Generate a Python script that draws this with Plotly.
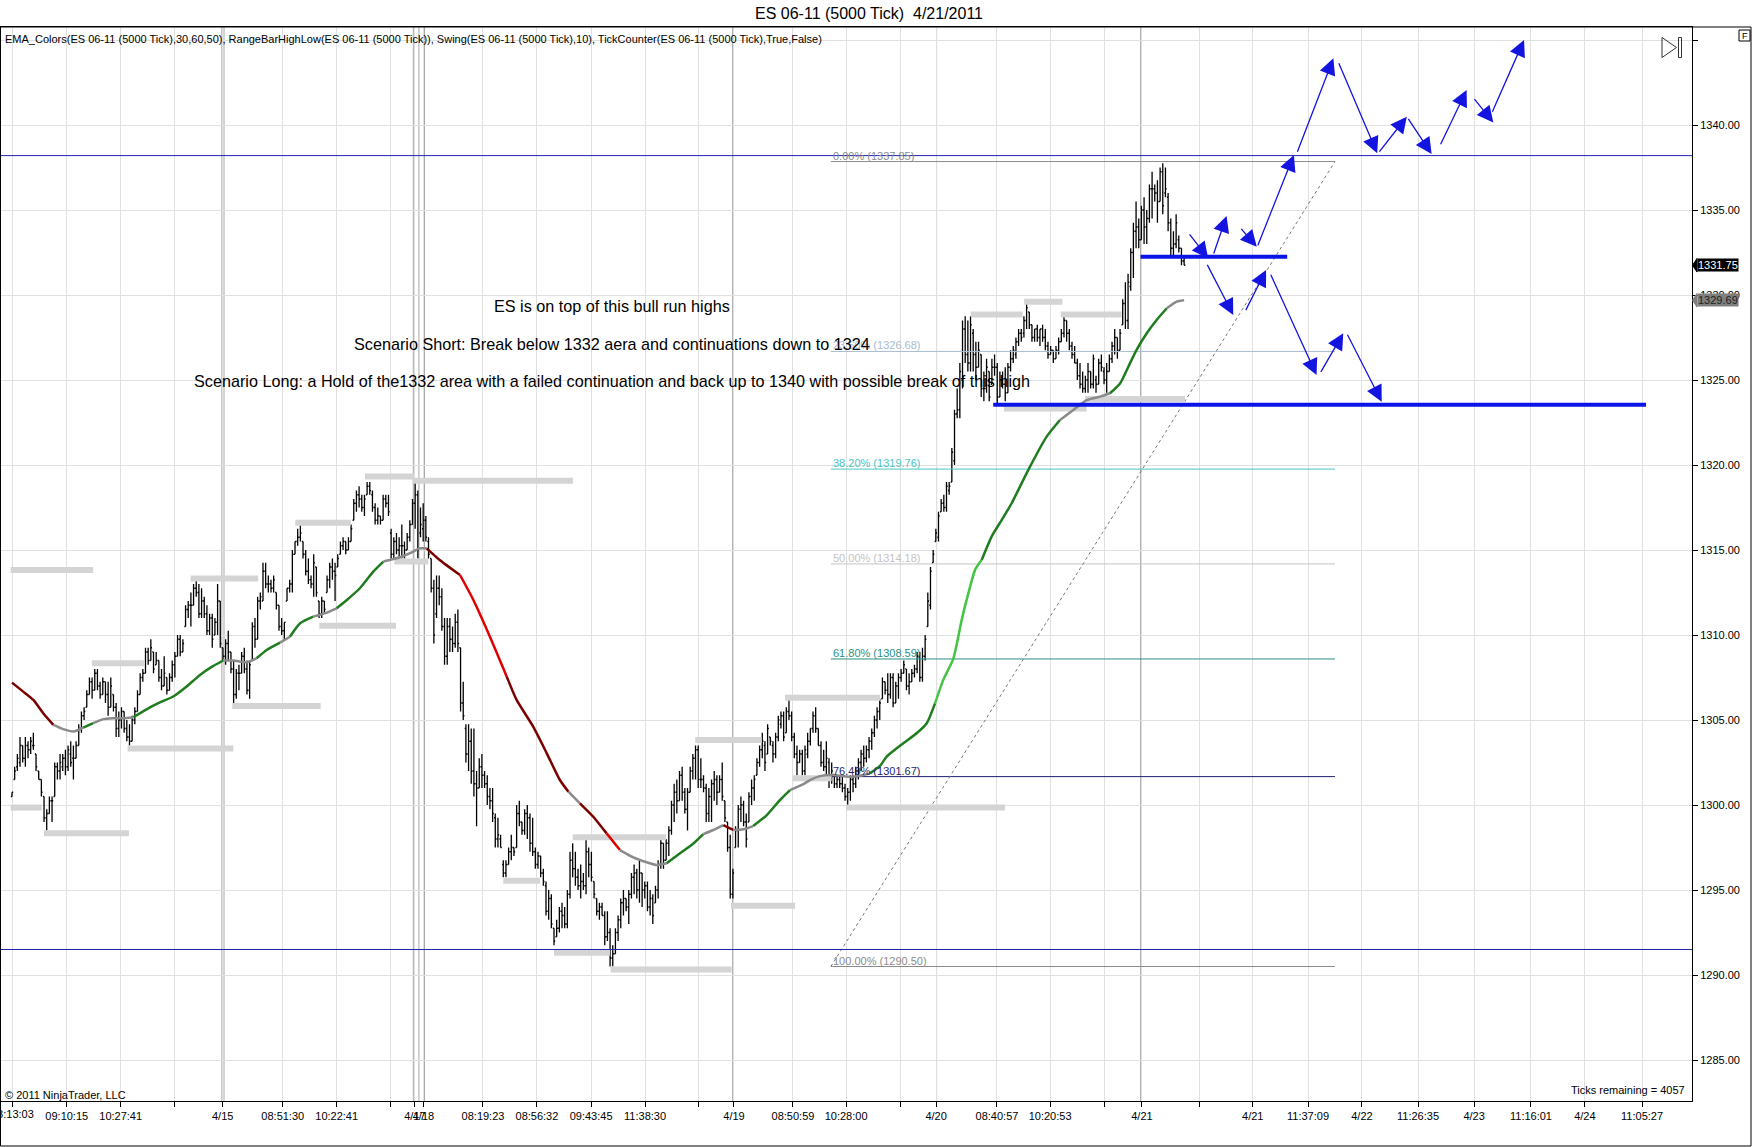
import plotly.graph_objects as go

# ES 06-11 (5000 Tick) 4/21/2011

# ---- 5000 tick OHLC bars, oldest first (x = bar number)
bar_open = [
    1300.5, 1301.5, 1302.25, 1302.5, 1303.5, 1302.75, 1303.5, 1303.25, 1303.5, 1303.0,
    1302.0, 1301.5, 1300.5, 1299.25, 1299.5, 1300.25, 1300.5, 1302.25, 1302.0, 1302.25,
    1302.75, 1302.25, 1303.0, 1302.75, 1302.75, 1303.5, 1304.5, 1305.25, 1305.75, 1306.5,
    1307.25, 1306.75, 1307.75, 1307.0, 1306.5, 1307.25, 1306.5, 1305.75, 1306.5, 1305.75,
    1304.5, 1305.0, 1305.5, 1304.5, 1304.0, 1303.75, 1305.0, 1305.5, 1306.5, 1307.5,
    1307.75, 1309.0, 1308.5, 1309.0, 1308.25, 1308.5, 1307.5, 1307.0, 1307.5, 1306.75,
    1307.5, 1308.25, 1308.75, 1309.75, 1309.0, 1310.5, 1311.5, 1311.75, 1311.75, 1312.75,
    1312.5, 1311.25, 1312.0, 1311.25, 1310.25, 1311.0, 1310.0, 1310.75, 1312.0, 1309.25,
    1308.75, 1309.5, 1309.0, 1308.0, 1306.5, 1307.75, 1307.75, 1308.75, 1308.0, 1306.75,
    1308.5, 1310.5, 1309.75, 1312.0, 1312.0, 1313.75, 1313.0, 1313.0, 1312.75, 1312.5,
    1311.75, 1310.5, 1310.25, 1312.0, 1312.75, 1313.0, 1314.75, 1315.5, 1315.75, 1315.5,
    1314.75, 1313.75, 1313.25, 1313.0, 1314.0, 1312.0, 1311.25, 1312.0, 1312.5, 1313.25,
    1314.0, 1313.75, 1314.0, 1314.75, 1315.25, 1315.5, 1315.0, 1315.5, 1316.75, 1317.75,
    1318.25, 1318.0, 1317.5, 1318.25, 1318.75, 1318.25, 1317.5, 1316.75, 1317.0, 1316.75,
    1318.0, 1317.75, 1316.0, 1314.75, 1315.5, 1315.0, 1315.25, 1315.25, 1315.0, 1315.75,
    1316.5, 1317.75, 1318.25, 1316.0, 1316.25, 1316.75, 1315.5, 1314.5, 1312.75, 1311.25,
    1312.75, 1312.25, 1310.5, 1308.75, 1310.5, 1309.75, 1309.5, 1310.75, 1309.25, 1306.0,
    1304.5, 1303.0, 1303.75, 1302.0, 1301.25, 1301.0, 1302.25, 1301.75, 1301.25, 1300.5,
    1300.25, 1299.25, 1298.0, 1298.0, 1296.5, 1296.0, 1296.5, 1297.25, 1297.5, 1297.5,
    1299.5, 1299.0, 1298.5, 1299.5, 1299.25, 1297.75, 1297.25, 1296.5, 1297.0, 1296.0,
    1295.25, 1293.75, 1294.5, 1292.75, 1292.25, 1292.75, 1293.75, 1293.5, 1293.0, 1294.75,
    1296.75, 1296.25, 1295.75, 1295.25, 1295.5, 1295.25, 1297.25, 1296.5, 1295.5, 1294.5,
    1293.75, 1294.0, 1293.5, 1292.25, 1292.5, 1291.0, 1291.25, 1292.5, 1293.25, 1294.25,
    1294.5, 1294.0, 1294.75, 1295.75, 1296.0, 1295.0, 1296.0, 1295.0, 1295.25, 1294.0,
    1294.5, 1294.25, 1295.0, 1296.5, 1297.75, 1296.75, 1297.75, 1298.5, 1300.0, 1300.75,
    1300.25, 1301.75, 1300.75, 1299.75, 1300.75, 1302.0, 1302.75, 1303.25, 1301.5, 1301.5,
    1301.0, 1299.5, 1300.5, 1301.25, 1301.5, 1300.75, 1301.5, 1300.25, 1299.0, 1297.5,
    1294.75, 1297.5, 1298.5, 1299.75, 1300.0, 1299.0, 1299.0, 1300.5, 1301.0, 1301.75,
    1302.5, 1303.25, 1303.5, 1303.0, 1304.0, 1303.5, 1303.0, 1304.0, 1304.75, 1305.25,
    1304.25, 1305.5, 1305.25, 1304.0, 1303.0, 1302.5, 1303.0, 1302.0, 1303.0, 1303.75,
    1304.5, 1305.25, 1304.5, 1303.5, 1302.5, 1302.25, 1302.5, 1301.5, 1301.75, 1301.25,
    1301.5, 1301.25, 1301.0, 1300.5, 1300.75, 1301.5, 1301.25, 1302.0, 1302.5, 1303.0,
    1302.75, 1303.25, 1303.75, 1304.25, 1305.0, 1305.5, 1306.25, 1307.25, 1306.75, 1306.5,
    1307.5, 1306.0, 1307.0, 1307.5, 1307.75, 1308.0, 1307.0, 1307.25, 1307.75, 1308.0,
    1308.75, 1307.5, 1308.75, 1310.5, 1311.75, 1314.25, 1315.5, 1315.75, 1317.25, 1317.75,
    1317.5, 1318.5, 1319.0, 1320.25, 1323.0, 1323.25, 1325.0, 1328.0, 1326.5, 1326.0,
    1327.75, 1326.5, 1325.75, 1326.5, 1324.5, 1324.5, 1325.5, 1324.75, 1325.75, 1325.75,
    1324.0, 1325.0, 1324.75, 1324.25, 1325.75, 1326.25, 1326.5, 1327.25, 1327.75, 1327.75,
    1328.5, 1329.0, 1328.25, 1327.5, 1328.0, 1327.5, 1328.0, 1327.5, 1327.0, 1326.5,
    1326.75, 1326.25, 1326.75, 1327.25, 1327.75, 1328.5, 1327.75, 1327.0, 1326.5, 1326.0,
    1325.25, 1324.75, 1324.5, 1325.0, 1325.5, 1324.75, 1325.0, 1324.75, 1326.0, 1325.5,
    1325.0, 1325.5, 1326.25, 1327.0, 1327.5, 1326.75, 1328.25, 1329.5, 1328.5, 1330.5,
    1332.5, 1333.75, 1334.0, 1333.25, 1335.0, 1334.0, 1334.5, 1336.25, 1336.25, 1336.0,
    1335.5, 1337.25, 1336.0, 1335.75, 1334.25, 1332.75, 1333.0, 1333.25, 1332.75, 1332.0,
]
bar_high = [
    1300.75, 1302.25, 1303.0, 1304.0, 1303.5, 1304.0, 1303.75, 1304.0, 1304.25, 1303.0,
    1302.0, 1301.5, 1300.5, 1299.75, 1300.5, 1300.5, 1302.5, 1302.5, 1303.0, 1303.0,
    1303.25, 1303.5, 1303.75, 1303.5, 1303.75, 1304.75, 1305.5, 1305.75, 1306.75, 1307.5,
    1307.5, 1308.0, 1308.0, 1307.25, 1307.5, 1307.25, 1307.25, 1307.5, 1306.5, 1306.0,
    1305.5, 1305.75, 1305.5, 1305.0, 1304.75, 1305.25, 1305.75, 1306.75, 1307.75, 1308.0,
    1309.25, 1309.25, 1309.75, 1309.0, 1309.0, 1308.5, 1308.0, 1308.75, 1307.5, 1307.75,
    1308.5, 1309.0, 1310.0, 1310.0, 1309.75, 1311.75, 1312.0, 1312.5, 1313.0, 1313.25,
    1313.0, 1312.75, 1312.25, 1311.75, 1311.25, 1311.25, 1311.0, 1313.0, 1312.0, 1309.25,
    1309.75, 1310.25, 1309.0, 1308.5, 1308.0, 1308.25, 1309.0, 1309.25, 1308.5, 1308.5,
    1310.75, 1311.0, 1312.25, 1312.5, 1314.25, 1314.25, 1313.5, 1313.25, 1313.5, 1312.5,
    1311.75, 1311.0, 1310.75, 1312.75, 1313.25, 1315.0, 1315.5, 1316.25, 1316.5, 1315.5,
    1315.0, 1314.5, 1313.5, 1314.75, 1314.0, 1312.0, 1312.25, 1312.0, 1313.5, 1314.25,
    1314.5, 1314.25, 1314.75, 1315.5, 1315.75, 1315.5, 1315.75, 1316.5, 1318.0, 1318.5,
    1318.75, 1318.25, 1318.25, 1319.0, 1319.0, 1318.5, 1317.75, 1317.5, 1317.0, 1318.25,
    1318.25, 1318.25, 1316.25, 1315.75, 1316.0, 1315.75, 1316.5, 1315.5, 1316.0, 1316.75,
    1318.0, 1319.0, 1318.5, 1317.5, 1317.75, 1317.0, 1315.75, 1314.5, 1313.25, 1313.5,
    1313.5, 1312.75, 1311.0, 1311.0, 1311.0, 1310.5, 1311.25, 1311.5, 1309.25, 1307.25,
    1304.75, 1304.75, 1304.5, 1304.5, 1302.0, 1302.75, 1303.0, 1302.0, 1301.75, 1301.0,
    1301.0, 1299.5, 1299.25, 1298.25, 1296.75, 1296.75, 1297.5, 1298.25, 1297.5, 1300.0,
    1300.25, 1299.0, 1299.75, 1300.0, 1299.5, 1299.25, 1297.5, 1297.25, 1297.0, 1296.25,
    1295.5, 1295.0, 1294.75, 1292.75, 1293.25, 1294.0, 1294.25, 1294.0, 1295.0, 1297.25,
    1297.75, 1297.25, 1296.25, 1296.5, 1296.0, 1298.0, 1297.5, 1297.25, 1295.5, 1294.5,
    1294.25, 1294.25, 1293.75, 1293.75, 1292.75, 1291.75, 1292.75, 1293.5, 1294.5, 1295.0,
    1294.5, 1295.0, 1296.0, 1296.5, 1296.25, 1296.75, 1296.0, 1295.5, 1295.5, 1295.0,
    1294.75, 1295.25, 1296.75, 1298.0, 1297.75, 1298.0, 1298.75, 1300.25, 1301.25, 1301.5,
    1302.0, 1302.25, 1301.0, 1301.0, 1302.25, 1303.0, 1303.5, 1303.5, 1302.75, 1301.75,
    1301.25, 1301.0, 1301.5, 1302.0, 1301.75, 1301.75, 1302.5, 1300.25, 1299.0, 1298.25,
    1296.25, 1298.75, 1300.0, 1300.5, 1300.25, 1299.5, 1300.75, 1301.5, 1301.75, 1302.75,
    1303.5, 1304.25, 1303.75, 1304.75, 1304.0, 1303.75, 1304.25, 1305.25, 1305.5, 1305.5,
    1305.75, 1306.25, 1305.5, 1304.25, 1303.5, 1303.25, 1303.25, 1303.5, 1304.25, 1304.5,
    1305.5, 1305.75, 1304.5, 1303.75, 1303.25, 1303.75, 1302.75, 1302.5, 1301.75, 1301.75,
    1301.75, 1301.75, 1301.25, 1301.0, 1301.75, 1301.75, 1302.25, 1302.75, 1303.25, 1303.5,
    1303.5, 1304.0, 1304.5, 1305.25, 1305.75, 1306.25, 1307.5, 1307.25, 1307.75, 1307.75,
    1307.75, 1307.25, 1307.75, 1308.0, 1308.5, 1308.0, 1307.75, 1308.0, 1308.25, 1309.0,
    1309.0, 1309.25, 1310.0, 1312.5, 1314.0, 1315.0, 1316.25, 1317.25, 1318.0, 1318.25,
    1319.0, 1319.0, 1321.0, 1323.25, 1324.5, 1326.0, 1328.5, 1328.75, 1328.5, 1328.75,
    1328.0, 1327.25, 1327.25, 1326.5, 1325.5, 1326.25, 1325.5, 1326.25, 1326.5, 1326.0,
    1325.5, 1325.5, 1325.75, 1326.0, 1326.75, 1327.0, 1327.5, 1328.0, 1328.0, 1328.75,
    1329.5, 1329.0, 1328.25, 1328.0, 1328.25, 1328.0, 1328.25, 1328.0, 1327.25, 1327.0,
    1326.75, 1327.0, 1327.5, 1328.0, 1328.75, 1328.5, 1328.0, 1327.25, 1327.0, 1326.25,
    1326.0, 1325.5, 1325.25, 1326.0, 1325.5, 1326.5, 1325.25, 1326.25, 1326.5, 1325.75,
    1326.0, 1326.5, 1327.25, 1328.0, 1327.5, 1328.0, 1329.75, 1330.75, 1331.25, 1332.75,
    1334.25, 1335.5, 1334.5, 1335.25, 1335.75, 1335.0, 1336.5, 1337.25, 1336.5, 1336.75,
    1337.5, 1337.75, 1337.5, 1336.0, 1334.5, 1333.75, 1334.75, 1333.5, 1332.75, 1332.25,
]
bar_low = [
    1300.5, 1301.5, 1302.0, 1302.25, 1302.5, 1302.25, 1302.75, 1303.0, 1303.25, 1302.0,
    1301.5, 1300.5, 1299.0, 1298.5, 1299.5, 1299.0, 1300.5, 1301.5, 1301.5, 1302.0,
    1301.75, 1302.0, 1302.25, 1301.5, 1302.75, 1303.5, 1304.25, 1305.0, 1305.75, 1306.5,
    1306.25, 1306.75, 1306.75, 1306.25, 1306.5, 1306.0, 1305.25, 1305.75, 1305.5, 1304.0,
    1304.0, 1304.5, 1304.25, 1303.75, 1303.5, 1303.75, 1304.75, 1305.5, 1306.5, 1307.25,
    1307.75, 1308.25, 1308.5, 1307.75, 1308.25, 1307.25, 1306.75, 1307.0, 1306.5, 1306.75,
    1307.25, 1307.5, 1308.75, 1308.75, 1309.0, 1310.5, 1311.0, 1310.5, 1311.75, 1312.25,
    1311.0, 1311.0, 1311.0, 1310.0, 1310.0, 1309.25, 1310.0, 1310.0, 1309.25, 1308.5,
    1308.25, 1308.5, 1307.75, 1306.0, 1306.25, 1306.75, 1307.75, 1307.75, 1306.5, 1306.25,
    1308.5, 1309.25, 1309.75, 1311.5, 1312.0, 1312.75, 1312.5, 1312.5, 1312.5, 1311.5,
    1310.25, 1310.0, 1309.75, 1312.0, 1312.5, 1312.5, 1314.75, 1315.25, 1315.5, 1314.5,
    1313.5, 1313.0, 1312.75, 1312.25, 1312.25, 1311.0, 1311.0, 1311.25, 1312.5, 1312.75,
    1313.25, 1312.0, 1314.0, 1314.75, 1315.0, 1314.75, 1315.0, 1315.5, 1316.75, 1317.25,
    1317.5, 1317.25, 1317.0, 1318.25, 1318.25, 1317.25, 1316.5, 1316.5, 1316.5, 1316.75,
    1317.5, 1317.0, 1314.5, 1314.5, 1314.75, 1314.5, 1314.5, 1314.5, 1315.0, 1315.5,
    1316.5, 1316.25, 1314.5, 1315.75, 1315.5, 1315.5, 1314.5, 1312.5, 1309.5, 1311.0,
    1311.75, 1310.25, 1308.25, 1308.25, 1309.0, 1309.0, 1309.25, 1309.0, 1305.5, 1305.0,
    1302.5, 1302.0, 1301.25, 1300.5, 1298.75, 1301.0, 1301.0, 1301.0, 1300.0, 1299.75,
    1299.0, 1297.5, 1297.5, 1297.5, 1295.75, 1295.75, 1296.5, 1296.75, 1297.0, 1297.5,
    1298.75, 1298.25, 1298.25, 1298.0, 1297.25, 1297.0, 1296.25, 1296.25, 1295.75, 1295.25,
    1293.5, 1293.25, 1292.75, 1291.75, 1292.25, 1292.5, 1292.75, 1292.75, 1292.75, 1294.5,
    1295.75, 1295.25, 1295.0, 1294.5, 1295.0, 1294.75, 1295.75, 1295.5, 1294.5, 1293.5,
    1293.25, 1293.5, 1291.75, 1292.0, 1290.5, 1290.5, 1291.25, 1292.0, 1292.75, 1293.5,
    1293.75, 1293.0, 1294.5, 1294.75, 1294.5, 1294.25, 1294.0, 1294.5, 1293.75, 1293.5,
    1293.0, 1294.25, 1294.5, 1296.25, 1296.25, 1296.75, 1297.0, 1298.25, 1299.0, 1299.5,
    1300.25, 1300.25, 1299.5, 1298.5, 1300.75, 1301.5, 1301.5, 1301.0, 1301.0, 1300.75,
    1299.0, 1299.0, 1299.0, 1300.25, 1300.0, 1300.75, 1300.25, 1299.0, 1297.25, 1294.5,
    1294.5, 1297.5, 1297.5, 1299.0, 1298.75, 1297.5, 1299.0, 1300.0, 1300.25, 1301.75,
    1302.25, 1302.75, 1302.0, 1303.0, 1303.5, 1302.5, 1302.75, 1303.75, 1304.5, 1303.75,
    1304.25, 1305.0, 1303.75, 1302.75, 1301.75, 1302.5, 1301.75, 1301.75, 1302.75, 1303.5,
    1304.25, 1304.25, 1303.5, 1302.25, 1302.0, 1301.75, 1301.0, 1301.25, 1301.0, 1301.0,
    1301.0, 1300.75, 1300.25, 1300.0, 1300.25, 1300.75, 1301.0, 1301.5, 1302.0, 1302.25,
    1302.5, 1302.75, 1303.25, 1304.0, 1304.5, 1305.0, 1306.25, 1306.5, 1306.0, 1306.25,
    1305.75, 1306.0, 1306.25, 1307.25, 1307.75, 1306.75, 1306.5, 1307.25, 1307.5, 1307.75,
    1307.25, 1307.25, 1308.5, 1310.5, 1311.5, 1314.25, 1315.5, 1315.5, 1317.25, 1317.25,
    1317.25, 1318.25, 1319.0, 1320.0, 1322.75, 1322.75, 1324.5, 1326.0, 1325.5, 1325.5,
    1325.5, 1325.0, 1325.75, 1324.0, 1323.75, 1324.25, 1323.75, 1324.75, 1325.25, 1323.5,
    1324.0, 1324.5, 1323.75, 1324.25, 1325.5, 1326.0, 1326.25, 1327.0, 1327.25, 1327.5,
    1328.0, 1328.0, 1327.25, 1327.25, 1327.25, 1327.0, 1327.25, 1326.75, 1326.25, 1326.5,
    1326.0, 1326.25, 1326.5, 1327.25, 1327.5, 1327.25, 1326.75, 1326.25, 1326.0, 1325.0,
    1324.5, 1324.25, 1324.25, 1324.25, 1324.5, 1324.5, 1324.25, 1324.75, 1325.5, 1324.75,
    1324.25, 1325.5, 1326.0, 1326.5, 1326.25, 1326.75, 1328.25, 1328.0, 1328.0, 1330.25,
    1331.0, 1332.75, 1332.75, 1333.25, 1333.0, 1333.0, 1334.25, 1334.5, 1335.5, 1334.25,
    1335.5, 1334.75, 1335.75, 1333.75, 1332.25, 1332.25, 1332.75, 1332.5, 1331.75, 1331.75,
]
bar_close = [
    1300.75, 1302.0, 1302.75, 1303.5, 1302.75, 1303.5, 1303.25, 1303.75, 1303.5, 1302.25,
    1301.5, 1300.75, 1299.25, 1299.5, 1300.25, 1300.25, 1302.25, 1302.0, 1302.5, 1302.75,
    1302.25, 1303.25, 1302.5, 1302.75, 1303.5, 1304.5, 1305.25, 1305.5, 1306.5, 1307.25,
    1306.75, 1307.75, 1307.0, 1306.5, 1307.25, 1306.5, 1305.75, 1307.0, 1305.75, 1304.5,
    1305.0, 1305.5, 1304.5, 1304.0, 1303.75, 1305.0, 1305.5, 1306.5, 1307.5, 1307.75,
    1309.0, 1308.5, 1309.25, 1308.0, 1308.5, 1307.5, 1307.0, 1307.75, 1306.75, 1307.5,
    1308.25, 1308.75, 1309.75, 1309.0, 1309.5, 1311.5, 1311.75, 1311.75, 1312.75, 1312.5,
    1311.25, 1312.0, 1311.25, 1310.25, 1311.0, 1309.75, 1310.75, 1312.0, 1309.5, 1308.75,
    1309.5, 1309.0, 1308.0, 1306.5, 1307.75, 1307.75, 1308.75, 1308.0, 1306.75, 1308.25,
    1310.5, 1309.75, 1312.0, 1312.25, 1313.75, 1313.0, 1313.0, 1312.75, 1313.25, 1311.75,
    1310.5, 1310.25, 1310.75, 1312.75, 1313.0, 1314.75, 1315.5, 1315.75, 1316.0, 1314.75,
    1313.75, 1313.25, 1313.0, 1314.25, 1312.5, 1311.25, 1312.0, 1311.5, 1313.25, 1314.0,
    1313.75, 1313.5, 1314.5, 1315.25, 1315.5, 1315.0, 1315.5, 1316.25, 1317.75, 1318.25,
    1318.0, 1317.5, 1318.0, 1318.75, 1318.5, 1317.5, 1316.75, 1317.0, 1316.75, 1318.0,
    1317.75, 1317.25, 1314.75, 1315.5, 1315.0, 1315.25, 1315.25, 1315.0, 1315.75, 1316.5,
    1317.75, 1318.25, 1315.0, 1316.5, 1316.75, 1315.75, 1314.75, 1312.75, 1310.0, 1312.75,
    1312.25, 1310.5, 1308.75, 1310.5, 1309.75, 1309.5, 1310.75, 1309.5, 1306.0, 1305.25,
    1303.0, 1303.75, 1302.0, 1301.25, 1301.0, 1302.25, 1301.75, 1301.25, 1300.5, 1300.25,
    1299.5, 1298.0, 1298.25, 1297.5, 1296.0, 1296.5, 1297.25, 1297.5, 1297.25, 1299.5,
    1299.0, 1298.5, 1299.5, 1299.25, 1297.75, 1297.25, 1296.5, 1297.0, 1296.0, 1295.5,
    1293.75, 1294.5, 1293.0, 1292.0, 1292.75, 1293.75, 1293.5, 1293.0, 1294.75, 1296.75,
    1296.25, 1295.75, 1295.25, 1295.5, 1295.25, 1297.25, 1296.5, 1295.75, 1294.75, 1293.75,
    1294.0, 1293.5, 1292.25, 1292.5, 1291.0, 1291.25, 1292.5, 1293.25, 1294.25, 1294.5,
    1294.0, 1294.75, 1295.75, 1296.0, 1295.0, 1296.0, 1295.0, 1295.25, 1294.0, 1294.5,
    1293.5, 1295.0, 1296.5, 1297.75, 1296.75, 1297.75, 1298.5, 1300.0, 1300.75, 1300.25,
    1301.75, 1300.75, 1299.75, 1300.75, 1302.0, 1302.75, 1303.25, 1301.5, 1301.5, 1301.0,
    1299.5, 1300.5, 1301.25, 1301.5, 1300.75, 1301.5, 1300.5, 1299.25, 1297.5, 1294.75,
    1296.0, 1298.5, 1299.75, 1300.0, 1299.0, 1298.0, 1300.5, 1301.0, 1301.5, 1302.5,
    1303.25, 1303.75, 1302.5, 1304.5, 1303.75, 1303.0, 1304.0, 1305.0, 1305.25, 1304.0,
    1305.5, 1305.25, 1304.0, 1303.0, 1302.5, 1303.0, 1302.0, 1303.25, 1303.75, 1304.5,
    1305.25, 1304.5, 1303.5, 1302.5, 1302.25, 1302.75, 1301.5, 1302.0, 1301.25, 1301.5,
    1301.25, 1301.0, 1300.5, 1300.75, 1301.5, 1301.25, 1302.0, 1302.5, 1303.0, 1302.75,
    1303.25, 1303.75, 1304.25, 1305.0, 1305.5, 1306.0, 1307.25, 1306.75, 1306.5, 1307.5,
    1306.0, 1307.0, 1307.5, 1307.75, 1308.25, 1307.0, 1307.25, 1307.75, 1308.0, 1308.75,
    1307.5, 1308.75, 1309.75, 1312.0, 1313.75, 1314.75, 1316.0, 1317.0, 1317.75, 1317.5,
    1318.75, 1318.75, 1320.75, 1323.0, 1323.25, 1325.5, 1328.0, 1326.5, 1326.0, 1328.25,
    1326.5, 1325.75, 1326.75, 1324.5, 1324.5, 1325.75, 1324.0, 1325.75, 1325.75, 1324.0,
    1325.0, 1324.75, 1324.25, 1325.75, 1326.25, 1326.75, 1327.25, 1327.75, 1327.5, 1328.5,
    1329.25, 1328.25, 1327.5, 1328.0, 1327.5, 1328.0, 1327.5, 1327.0, 1326.5, 1326.75,
    1326.25, 1326.75, 1327.25, 1327.75, 1328.5, 1327.75, 1327.0, 1326.5, 1326.0, 1325.25,
    1324.75, 1324.5, 1325.0, 1325.5, 1324.75, 1326.25, 1324.75, 1326.0, 1325.75, 1325.0,
    1325.5, 1326.25, 1327.0, 1327.5, 1326.75, 1327.75, 1329.5, 1328.5, 1330.75, 1332.5,
    1333.75, 1334.0, 1333.25, 1335.0, 1334.0, 1334.5, 1336.25, 1336.25, 1336.0, 1335.5,
    1337.25, 1335.25, 1336.25, 1334.25, 1332.75, 1333.0, 1334.25, 1332.75, 1332.0, 1331.75,
]
bar_num = list(range(len(bar_close)))

# ---- EMA_Colors(30,60,50): points along the line and the colour state of each run
ema_bar = [
    0, 4.2, 8.0, 11.7, 15.5, 19.2, 23.0, 26.7, 30.4, 34.2, 37.9, 41.7, 45.4, 50.4, 55.4,
    60.4, 65.4, 70.4, 75.4, 79.1, 82.9, 87.9, 91.6, 95.4, 100.4, 104.1, 107.9, 112.8,
    117.9, 121.6, 125.4, 130.3, 135.3, 139.1, 145.3, 149.1, 152.8, 155.3, 160.3, 167.8,
    172.8, 179.0, 185.3, 189.0, 195.2, 200.3, 205.2, 208.4, 212.7, 217.7, 222.7, 227.7,
    232.7, 237.7, 241.5, 245.2, 250.2, 255.2, 258.9, 262.7, 266.4, 270.1, 273.9, 277.6,
    282.7, 287.6, 291.4, 296.4, 298.9, 302.6, 307.6, 312.6, 317.6, 321.3, 325.1, 327.6,
    333.8, 338.8, 342.6, 345.7, 348.8, 352.6, 355.7, 358.2, 360.7, 363.2, 366.9, 370.7,
    374.4, 380.6, 387.5, 392.5, 397.5, 402.5, 407.5, 411.2, 415.0, 418.7, 421.2, 425.0,
    428.7, 432.5, 436.2, 439.0,
]
ema_val = [
    1307.2, 1306.67, 1306.18, 1305.4, 1304.71, 1304.46, 1304.32, 1304.55, 1304.81, 1305.05,
    1305.1, 1305.1, 1305.16, 1305.63, 1306.03, 1306.38, 1306.97, 1307.65, 1308.18, 1308.5,
    1308.5, 1308.4, 1308.63, 1309.12, 1309.55, 1309.9, 1310.69, 1311.08, 1311.32, 1311.57,
    1312.06, 1312.75, 1313.73, 1314.32, 1314.57, 1314.81, 1315.1, 1315.1, 1314.4, 1313.53,
    1312.06, 1309.9, 1307.55, 1306.18, 1304.61, 1303.04, 1301.47, 1300.78, 1300.1, 1299.31,
    1298.33, 1297.35, 1296.92, 1296.63, 1296.47, 1296.57, 1297.16, 1297.74, 1298.29, 1298.53,
    1298.82, 1298.53, 1298.57, 1298.76, 1299.41, 1300.29, 1300.88, 1301.23, 1301.47, 1301.7,
    1301.76, 1301.67, 1301.72, 1301.86, 1302.3, 1302.85, 1303.63, 1304.22, 1304.81, 1305.98,
    1307.36, 1308.63, 1310.89, 1312.46, 1313.83, 1314.42, 1315.79, 1316.77, 1317.75, 1319.7,
    1321.67, 1322.65, 1323.24, 1323.82, 1324.02, 1324.22, 1324.8, 1325.98, 1326.77, 1327.75,
    1328.53, 1329.22, 1329.61, 1329.69,
]
ema_run_state = [
    "down", "flat", "up", "flat", "up", "flat", "up", "flat", "up", "flat", "up", "flat",
    "down", "down_fast", "down", "flat", "down", "down_fast", "flat", "up", "flat", "down",
    "flat", "up", "flat", "up", "up_fast", "up", "flat", "up", "flat",
]
ema_run_len = [4, 3, 1, 4, 7, 3, 2, 1, 2, 2, 4, 4, 2, 3, 5, 1, 2, 1, 4, 3, 2, 1, 2, 3, 7, 6, 6, 6, 4, 6, 2]

# ---- RangeBarHighLow / swing levels (grey dashes): first bar, last bar, price
swing_start = [-0.5, -0.5, 12.0, 29.9, 43.3, 66.9, 82.5, 106.1, 115.1, 132.2, 150.0, 143.2, 184.0,
               203.0, 210.0, 224.2, 255.9, 269.3, 289.5, 292.4, 312.4, 359.1, 379.1, 392.8, 371.5, 401.9]
swing_end = [30.4, 11.1, 43.8, 49.4, 82.9, 92.2, 115.6, 126.9, 143.8, 150.6, 210.1, 155.9, 197.8,
             224.0, 245.0, 269.5, 280.8, 293.3, 325.1, 307.0, 371.9, 378.5, 393.4, 415.6, 402.5, 439.3]
swing_price = [1313.83, 1299.85, 1298.34, 1308.34, 1303.32, 1313.32, 1305.83, 1316.61, 1310.55,
               1319.32, 1319.08, 1314.32, 1295.55, 1291.31, 1298.1, 1290.33, 1303.82, 1294.08,
               1306.31, 1301.57, 1299.86, 1328.86, 1329.61, 1328.86, 1323.33, 1323.88]

# ---- Fibonacci retracement 1290.50 -> 1337.85
fib_pct = [0.0, 23.6, 38.2, 50.0, 61.8, 76.4, 100.0]
fib_price = [1337.85, 1326.68, 1319.76, 1314.18, 1308.59, 1301.67, 1290.50]
fib_from_bar = 306.7
fib_to_bar = 495.5

# ---- horizontal levels
line_price = [1338.2, 1291.5]          # thin, full width
zone_price = [1332.25, 1323.55]        # thick hand drawn levels
zone_start = [422.7, 367.5]
zone_end = [477.6, 612.0]

# ---- scenario arrows (tail -> head) in bar / price
arrow_from_bar = [440.6, 449.9, 459.9, 466.4, 481.2, 496.7, 511.7, 522.6, 534.8, 547.3, 554.2,
                  447.4, 461.8, 471.2, 489.9, 499.9]
arrow_from_price = [1333.66, 1332.35, 1333.98, 1332.84, 1338.34, 1343.72, 1338.34, 1340.45, 1338.78,
                    1341.61, 1340.69, 1331.86, 1329.02, 1331.28, 1325.39, 1327.75]
arrow_to_bar = [448.0, 454.9, 466.2, 480.1, 494.9, 511.3, 522.4, 531.7, 544.8, 554.8, 566.3,
                457.4, 469.7, 488.6, 498.6, 513.0]
arrow_to_price = [1332.16, 1334.65, 1332.84, 1338.24, 1343.92, 1338.34, 1340.49, 1338.29, 1342.06,
                  1340.14, 1345.0, 1328.82, 1331.47, 1325.29, 1327.75, 1323.72]

# ---- scenario notes
note_text = [
    "ES is on top of this bull run highs",
    "Scenario Short: Break below 1332 aera and continuations down to 1324",
    "Scenario Long: a Hold of the1332 area with a failed continuation and back up to 1340 with possible break of this high",
]
note_price = [1329.35, 1327.12, 1324.94]
note_bar = 224.7

# ---- time axis
tick_bar = [0.3, 20.5, 40.7, 60.9, 78.9, 101.4, 121.6, 141.8, 150.9, 154.1, 176.4, 196.6, 216.9,
            237.1, 257.3, 270.4, 292.5, 312.4, 332.8, 346.1, 368.9, 388.8, 409.0, 423.2, 444.9,
            464.7, 485.4, 505.6, 526.6, 547.6, 568.9, 589.1, 610.5]
tick_text = ["08:13:03", "09:10:15", "10:27:41", "", "4/15", "08:51:30", "10:22:41", "", "4/17",
             "4/18", "08:19:23", "08:56:32", "09:43:45", "11:38:30", "", "4/19", "08:50:59",
             "10:28:00", "", "4/20", "08:40:57", "10:20:53", "", "4/21", "", "4/21", "11:37:09",
             "4/22", "11:26:35", "4/23", "11:16:01", "4/24", "11:05:27"]
session_bar = [78.6, 79.4, 150.3, 152.4, 154.5, 269.9, 346.3, 422.7]
price_ticks = [1285, 1290, 1295, 1300, 1305, 1310, 1315, 1320, 1325, 1330, 1335, 1340, 1345]

# ---------------------------------------------------------------------------
FONT = "Liberation Sans, Arial, sans-serif"
PLOT_L, PLOT_R, PLOT_T, PLOT_B = 1, 1692, 27, 1101


def px(x):
    return (x - PLOT_L) / (PLOT_R - PLOT_L)


def py(y):
    return (PLOT_B - y) / (PLOT_B - PLOT_T)


fib_colors = ["#8c8c8c", "#a9bccf", "#4cc4c4", "#c4c4c4", "#2a8f86", "#1e1e6e", "#8c8c8c"]
ema_colors = {"down": "#7a0000", "down_fast": "#e00000", "flat": "#8a8a8a",
              "up": "#1f7d1f", "up_fast": "#44c444"}

fig = go.Figure()

# fib levels
for pct, price, col in zip(fib_pct, fib_price, fib_colors):
    fig.add_trace(go.Scatter(x=[fib_from_bar, fib_to_bar], y=[price, price], mode="lines",
                             line=dict(color=col, width=1), hoverinfo="skip"))
    fig.add_annotation(x=fib_from_bar, y=price, text=f"{pct:.2f}% ({price:.2f})", showarrow=False,
                       xanchor="left", yanchor="bottom", yshift=-2,
                       font=dict(family=FONT, size=11, color=col))
fig.add_trace(go.Scatter(x=[fib_from_bar, fib_to_bar], y=[fib_price[-1], fib_price[0]], mode="lines",
                         line=dict(color="#777777", width=1, dash="dot"), hoverinfo="skip"))

# swing dashes
sx, sy = [], []
for a, b, p in zip(swing_start, swing_end, swing_price):
    sx += [a, b, None]
    sy += [p, p, None]
fig.add_trace(go.Scatter(x=sx, y=sy, mode="lines", line=dict(color="#d4d4d4", width=6),
                         hoverinfo="skip"))

# EMA colour runs
start = 0
for state, n in zip(ema_run_state, ema_run_len):
    fig.add_trace(go.Scatter(x=ema_bar[start:start + n + 1], y=ema_val[start:start + n + 1],
                             mode="lines", line=dict(color=ema_colors[state], width=2.5,
                                                     shape="spline", smoothing=0.6),
                             hoverinfo="skip"))
    start += n

# price bars
fig.add_trace(go.Ohlc(x=bar_num, open=bar_open, high=bar_high, low=bar_low, close=bar_close,
                      increasing_line_color="black", decreasing_line_color="black",
                      line=dict(width=1.3), tickwidth=0.45, hoverinfo="skip"))

# hand drawn thick levels
for p, a, b in zip(zone_price, zone_start, zone_end):
    fig.add_trace(go.Scatter(x=[a, b], y=[p, p], mode="lines", line=dict(color="#0a14e6", width=4),
                             hoverinfo="skip"))

# scenario arrows
for x0, y0, x1, y1 in zip(arrow_from_bar, arrow_from_price, arrow_to_bar, arrow_to_price):
    fig.add_annotation(x=x1, y=y1, ax=x0, ay=y0, xref="x", yref="y", axref="x", ayref="y",
                       text="", showarrow=True, arrowhead=2, arrowsize=2.5, arrowwidth=1.3,
                       arrowcolor="#1414e0", standoff=0)

for t, p in zip(note_text, note_price):
    fig.add_annotation(x=note_bar, y=p, text=t, showarrow=False, xanchor="center", yanchor="middle",
                       font=dict(family=FONT, size=16.2, color="black"))

shapes = []
for b in session_bar:
    shapes.append(dict(type="line", xref="x", yref="paper", x0=b, x1=b, y0=0, y1=1,
                       line=dict(color="#a8a8a8", width=1), layer="below"))
for p in line_price:
    shapes.append(dict(type="line", xref="paper", yref="y", x0=0, x1=1, y0=p, y1=p,
                       line=dict(color="#2222b4", width=1), layer="above"))
# outer frame
shapes.append(dict(type="rect", xref="paper", yref="paper", x0=px(0.5), x1=px(1751), y0=py(1146),
                   y1=py(27), line=dict(color="black", width=1)))
# go-to-end icon and F box
shapes.append(dict(type="path", xref="paper", yref="paper",
                   path=f"M {px(1662)},{py(37.5)} L {px(1676.5)},{py(47.5)} L {px(1662)},{py(57.5)} Z",
                   line=dict(color="#333333", width=1)))
shapes.append(dict(type="rect", xref="paper", yref="paper", x0=px(1678.5), x1=px(1681.5),
                   y0=py(57.5), y1=py(37.5), line=dict(color="#333333", width=1)))
shapes.append(dict(type="rect", xref="paper", yref="paper", x0=px(1739), x1=px(1750),
                   y0=py(41), y1=py(30), line=dict(color="black", width=1)))

# price tags on the axis
tags = [(bar_close[-1], "black", "white"), (ema_val[-1], "#7f7f7f", "#222222")]
for p, bg, fg in tags:
    shapes.append(dict(type="path", xref="paper", yref="y",
                       path=f"M {px(1692.5)},{p} L {px(1697)},{p + 0.4} L {px(1697)},{p - 0.4} Z",
                       fillcolor=bg, line=dict(color=bg, width=1)))
    fig.add_annotation(xref="paper", yref="y", x=px(1697), y=p, text=f"{p:.2f}", showarrow=False,
                       xanchor="left", yanchor="middle", bgcolor=bg, borderpad=0,
                       font=dict(family=FONT, size=11, color=fg))

# first time label sits half outside the chart on the left edge
fig.add_annotation(xref="x", yref="paper", x=tick_bar[0], y=py(1113.5), text=tick_text[0],
                   showarrow=False, xanchor="center", yanchor="middle",
                   font=dict(family=FONT, size=11, color="black"))
fig.add_annotation(xref="paper", yref="paper", x=px(1744.5), y=py(35.5), text="F", showarrow=False,
                   xanchor="center", yanchor="middle",
                   font=dict(family=FONT, size=9, color="black"))
fig.add_annotation(xref="paper", yref="paper", x=px(3), y=py(39), xanchor="left", yanchor="middle",
                   showarrow=False,
                   text="EMA_Colors(ES 06-11 (5000 Tick),30,60,50), RangeBarHighLow(ES 06-11 (5000 Tick)), "
                        "Swing(ES 06-11 (5000 Tick),10), TickCounter(ES 06-11 (5000 Tick),True,False)",
                   font=dict(family=FONT, size=11, color="black"))
fig.add_annotation(xref="paper", yref="paper", x=px(3), y=py(1095), xanchor="left", yanchor="middle",
                   showarrow=False, text="© 2011 NinjaTrader, LLC",
                   font=dict(family=FONT, size=11, color="black"))
fig.add_annotation(xref="paper", yref="paper", x=px(1687), y=py(1090), xanchor="right",
                   yanchor="middle", showarrow=False, text="Ticks remaining = 4057",
                   font=dict(family=FONT, size=11, color="black"))

fig.update_layout(
    width=1752, height=1147,
    margin=dict(l=PLOT_L, r=1752 - PLOT_R, t=PLOT_T, b=1147 - PLOT_B, autoexpand=False),
    paper_bgcolor="white", plot_bgcolor="white",
    showlegend=False,
    font=dict(family=FONT, size=11, color="black"),
    title=dict(text="ES 06-11 (5000 Tick)\u00a0 4/21/2011", x=869 / 1752, xanchor="center",
               y=1 - 13 / 1147, yanchor="middle", font=dict(family=FONT, size=16, color="black")),
    xaxis=dict(range=[(PLOT_L - 12) / 2.67, (PLOT_R - 12) / 2.67], tickmode="array",
               tickvals=tick_bar, ticktext=[""] + tick_text[1:], tickangle=0,
               showgrid=True, gridcolor="#e0e0e0", gridwidth=1, zeroline=False,
               ticks="outside", ticklen=5, tickcolor="black",
               showline=True, linecolor="black", mirror=True,
               rangeslider=dict(visible=False), tickfont=dict(size=11)),
    yaxis=dict(side="right", range=[1340 - (PLOT_B - 125) / 17, 1340 + (125 - PLOT_T) / 17],
               tickmode="array", tickvals=price_ticks,
               ticktext=[f"{v:.2f}" if v < 1345 else "" for v in price_ticks],
               showgrid=True, gridcolor="#e0e0e0", gridwidth=1, zeroline=False,
               ticks="outside", ticklen=5, tickcolor="black",
               showline=True, linecolor="black", mirror=True, tickfont=dict(size=11)),
    shapes=shapes,
)

fig.write_html("out.html", config={"displayModeBar": False},
               post_script="document.body.style.margin='0';")
